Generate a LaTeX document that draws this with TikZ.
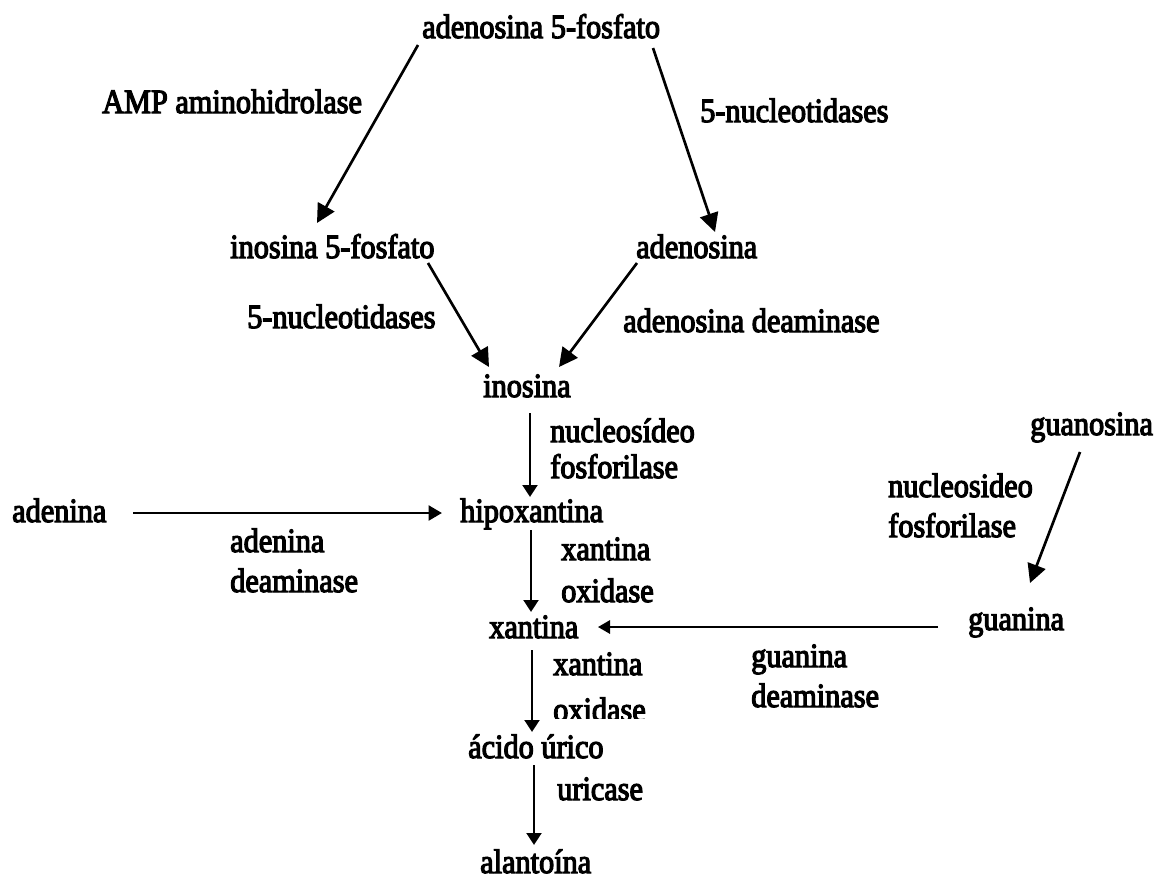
\documentclass[tikz,border=0pt]{standalone}
\usepackage{fontspec}
\setmainfont{Liberation Serif}[FakeStretch=0.89,FakeBold=3.5]
\usetikzlibrary{arrows.meta}
\tikzset{
  txt/.style={anchor=base west,inner sep=0pt,font=\fontsize{25.5pt}{30pt}\selectfont},
  conn/.style={line width=2pt,-{Triangle[length=14pt,width=14pt]}},
  vconn/.style={line width=2.2pt,-{Triangle[length=9pt,width=11pt]}},
  hconn/.style={line width=2.2pt,-{Triangle[length=10pt,width=11pt]}},
  thinconn/.style={line width=1.5pt,-{Triangle[length=9pt,width=10pt]}}
}
\begin{document}
\begin{tikzpicture}[x=0.75pt,y=-0.75pt]
\fill[white] (0,0) rectangle (1163,879);
\useasboundingbox (0,0) rectangle (1163,879);

% compounds
\node[txt] (ad5) at (422,38) {adenosina 5-fosfato};
\node[txt] (i5p) at (230,258) {inosina 5-fosfato};
\node[txt] (ado) at (636,258) {adenosina};
\node[txt] (ino) at (483,397) {inosina};
\node[txt] (ade) at (12,522) {adenina};
\node[txt] (hyp) at (460,522) {hipoxantina};
\node[txt] (guo) at (1030,435) {guanosina};
\node[txt] (xan) at (489,638) {xantina};
\node[txt] (gua) at (968,630) {guanina};
\node[txt] (uric) at (468,758) {ácido úrico};
\node[txt] (ala) at (480,873) {alantoína};

% enzyme labels
\node[txt] (lamp) at (102,113) {AMP aminohidrolase};
\node[txt] (l5nr) at (700,122) {5-nucleotidases};
\node[txt] (l5nl) at (247,328) {5-nucleotidases};
\node[txt] (lada) at (623,332) {adenosina deaminase};
\node[txt] (lnpa) at (550,442) {nucleosídeo};
\node[txt] (lnpb) at (550,478) {fosforilase};
\node[txt] (ladea) at (230,552) {adenina};
\node[txt] (ladeb) at (230,592) {deaminase};
\node[txt] (lgnpa) at (888,497) {nucleosideo};
\node[txt] (lgnpb) at (888,537) {fosforilase};
\node[txt] (lxoa) at (561,560) {xantina};
\node[txt] (lxob) at (561,602) {oxidase};
\node[txt] (lgda) at (751,667) {guanina};
\node[txt] (lgdb) at (751,707) {deaminase};
\node[txt] (lxoc) at (553,675) {xantina};
\begin{scope}
\clip (540,690) rectangle (680,718);
\node[txt] (lxod) at (553,721) {oxidase};
\end{scope}
\node[txt] (luri) at (557,800) {uricase};

% connectors
\draw[conn] ([shift={(-4,7)}]ad5.base west) -- ([shift={(87,-35)}]i5p.base west);
\draw[conn] ([shift={(231,10)}]ad5.base west) -- ([shift={(79,-26)}]ado.base west);
\draw[conn] ([shift={(198,5)}]i5p.base west) -- ([shift={(6,-30)}]ino.base west);
\draw[conn] ([shift={(1,5)}]ado.base west) -- ([shift={(76,-30)}]ino.base west);
\draw[vconn] ([shift={(47,16)}]ino.base west) -- ([shift={(70,-25)}]hyp.base west);
\draw[hconn] ([shift={(121,-9)}]ade.base west) -- ([shift={(-18,-9)}]hyp.base west);
\draw[vconn] ([shift={(71,8)}]hyp.base west) -- ([shift={(42,-26)}]xan.base west);
\draw[conn] ([shift={(50,17)}]guo.base west) -- ([shift={(62,-47)}]gua.base west);
\draw[thinconn] ([shift={(-30,-3)}]gua.base west) -- ([shift={(109,-11)}]xan.base west);
\draw[vconn] ([shift={(43,12)}]xan.base west) -- ([shift={(64,-26)}]uric.base west);
\draw[vconn] ([shift={(66,7)}]uric.base west) -- ([shift={(54,-28)}]ala.base west);
\end{tikzpicture}
\end{document}
